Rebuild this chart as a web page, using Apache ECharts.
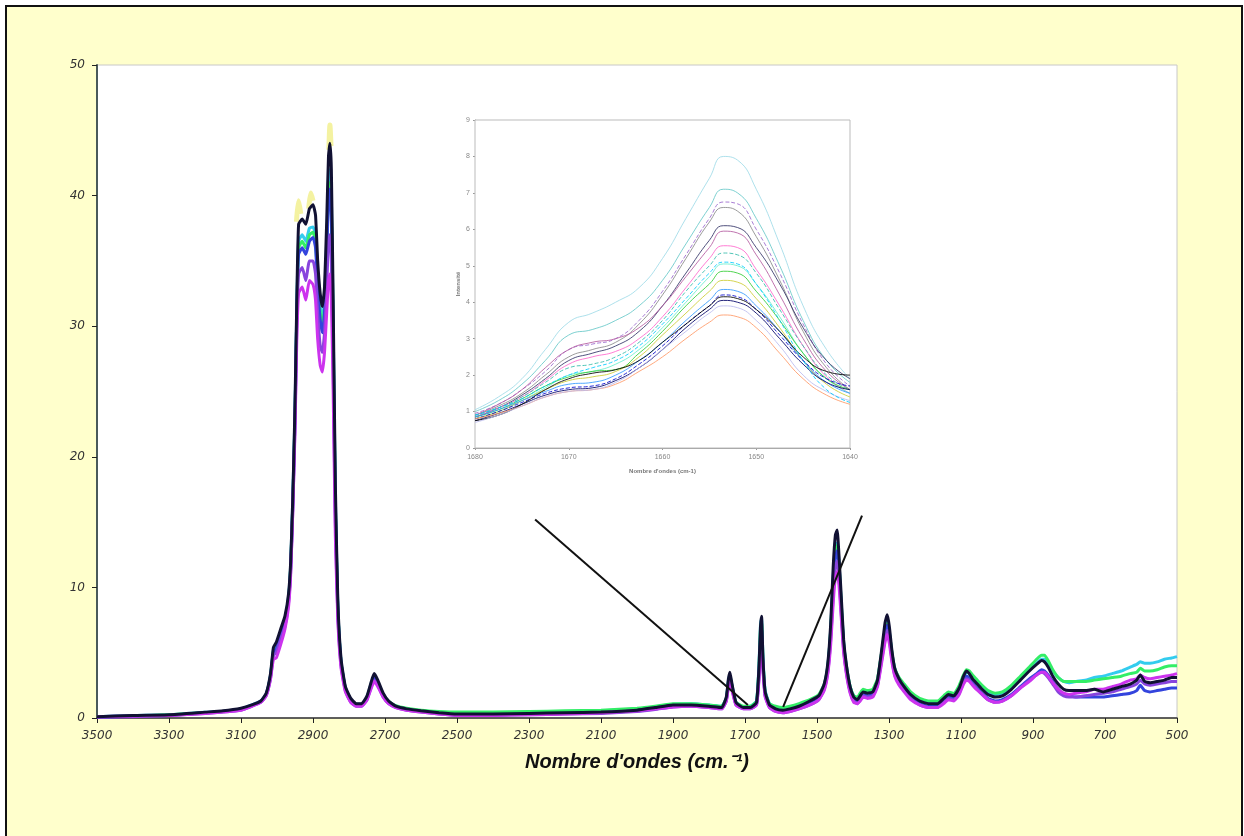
<!DOCTYPE html>
<html lang="fr">
<head>
  <meta charset="UTF-8">
  <title>Spectres Raman</title>
  <script src="https://cdn.jsdelivr.net/npm/echarts@6/dist/echarts.min.js"></script>
  <style>
    * { margin: 0; padding: 0; }
    body { background: #fff; width: 1244px; height: 836px; overflow: hidden; position: relative; }
    #frame { position: absolute; left: 5px; top: 5px; width: 1234px; height: 840px; border: 2px solid #111; background: #FFFFCC; }
    #main { position: absolute; left: 0; top: 0; width: 1244px; height: 836px; }
  </style>
</head>
<body>
  <div id="frame"></div>
  <div id="main"></div>
<script>
  // nombres d'onde (cm-1), spectre complet
  var W = [
    3500, 3400, 3300, 3200, 3150, 3100, 3070, 3045, 3030, 3018,
    3010, 3002, 2990, 2978, 2968, 2962, 2956, 2950, 2945, 2940,
    2930, 2920, 2910, 2900, 2893, 2887, 2880, 2874, 2868, 2862,
    2857, 2853, 2849, 2844, 2838, 2831, 2822, 2810, 2795, 2780,
    2765, 2750, 2738, 2730, 2720, 2705, 2690, 2670, 2640, 2600,
    2550, 2500, 2400, 2300, 2200, 2100, 2000, 1950, 1900, 1850,
    1800, 1765, 1752, 1746, 1742, 1736, 1725, 1705, 1685, 1668,
    1661, 1657, 1654, 1650, 1644, 1632, 1615, 1595, 1575, 1550,
    1520, 1495, 1480, 1470, 1462, 1455, 1449, 1444, 1439, 1433,
    1426, 1418, 1408, 1398, 1388, 1380, 1372, 1360, 1345, 1332,
    1320, 1311, 1305, 1299, 1292, 1284, 1272, 1258, 1240, 1215,
    1190, 1165, 1148, 1135, 1120, 1105, 1093, 1085, 1077, 1068,
    1058, 1045, 1025, 1005, 985, 960, 935, 910, 890, 876,
    868, 858, 845, 830, 815, 800, 780, 755, 730, 705,
    680, 655, 630, 612, 602, 590, 575, 555, 535, 515,
    500
  ];

  var specBlack = [
    0.1, 0.2, 0.25, 0.45, 0.55, 0.75, 1.0, 1.3, 1.9, 3.4,
    5.4, 5.8, 6.8, 7.8, 9.5, 12, 17, 24, 32, 37.8,
    38.2, 37.8, 39.0, 39.3, 38.5, 35, 32.5, 31.5, 33, 38,
    43, 44, 42, 32, 18, 9, 4.5, 2.4, 1.5, 1.1,
    1.1, 1.7, 2.8, 3.4, 2.9, 1.9, 1.3, 0.9, 0.7, 0.55,
    0.4, 0.3, 0.3, 0.35, 0.4, 0.45, 0.6, 0.8, 1.0, 1.0,
    0.9, 0.8, 1.6, 3.0, 3.5, 2.6, 1.2, 0.8, 0.8, 1.2,
    4.0, 7.0, 7.8, 4.5, 2.0, 1.0, 0.7, 0.6, 0.7, 0.9,
    1.3, 1.7, 2.6, 4.2, 7.2, 11.6, 14.0, 14.4, 12.5, 9.5,
    6.0, 4.0, 2.4, 1.6, 1.4, 1.7, 2.0, 1.9, 2.0, 2.9,
    5.3, 7.3, 7.9, 7.0, 5.2, 3.8, 3.0, 2.4, 1.8, 1.3,
    1.1, 1.1, 1.5, 1.8, 1.7, 2.3, 3.2, 3.6, 3.4, 3.0,
    2.7, 2.3, 1.8, 1.6, 1.7, 2.2, 2.9, 3.6, 4.1, 4.4,
    4.3, 3.9, 3.2, 2.6, 2.2, 2.1, 2.1, 2.1, 2.2, 2.0,
    2.2, 2.4, 2.6, 2.9, 3.3, 2.8, 2.7, 2.8, 2.9, 3.1,
    3.1
  ];

  var specMagenta = [
    0.1, 0.15, 0.2, 0.35, 0.45, 0.6, 0.9, 1.2, 1.7, 3.0,
    4.5, 4.6, 5.6, 6.8, 8.5, 11, 16, 22, 29, 32.5,
    33, 32, 33.5, 33.2, 32, 29, 27, 26.5, 28, 31,
    33.5, 34, 32, 25, 14, 7.5, 3.8, 2.0, 1.2, 0.9,
    0.9, 1.4, 2.3, 2.8, 2.4, 1.6, 1.1, 0.8, 0.6, 0.45,
    0.3, 0.2, 0.2, 0.25, 0.3, 0.4, 0.55, 0.7, 0.85, 0.9,
    0.8, 0.7, 1.3, 2.4, 2.8, 2.1, 1.0, 0.7, 0.7, 1.0,
    3.0, 5.2, 5.8, 3.6, 1.6, 0.8, 0.5, 0.4, 0.5, 0.7,
    1.0, 1.4, 2.1, 3.4, 5.6, 8.8, 10.8, 11.2, 10.2, 7.8,
    5.0, 3.3, 1.9, 1.2, 1.1, 1.3, 1.6, 1.5, 1.6, 2.4,
    4.3, 5.8, 6.4, 5.7, 4.3, 3.2, 2.5, 2.0, 1.4, 1.0,
    0.8, 0.8, 1.1, 1.4, 1.3, 1.8, 2.6, 2.9, 2.8, 2.5,
    2.2, 1.9, 1.4, 1.2, 1.3, 1.7, 2.3, 2.8, 3.3, 3.5,
    3.5, 3.2, 2.7, 2.2, 1.9, 1.8, 1.9, 2.0, 2.2, 2.2,
    2.4, 2.6, 2.9, 3.0, 3.3, 3.1, 3.0, 3.1, 3.2, 3.3,
    3.4
  ];

  var specBlue = [
    0.05, 0.15, 0.2, 0.4, 0.5, 0.65, 0.95, 1.25, 1.8, 3.2,
    5.0, 5.3, 6.3, 7.3, 9.0, 11.5, 16.5, 23, 31, 35.5,
    36, 35.5, 36.5, 36.8, 36, 33, 30.5, 29.5, 31, 35.5,
    39.5, 40.5, 38.5, 29, 16, 8.3, 4.2, 2.2, 1.3, 1.0,
    1.0, 1.5, 2.5, 3.1, 2.6, 1.7, 1.2, 0.85, 0.65, 0.5,
    0.35, 0.25, 0.25, 0.3, 0.35, 0.4, 0.55, 0.75, 0.95, 0.95,
    0.85, 0.75, 1.4, 2.7, 3.1, 2.3, 1.1, 0.75, 0.75, 1.1,
    3.5, 6.2, 6.8, 4.0, 1.8, 0.9, 0.6, 0.5, 0.6, 0.8,
    1.1, 1.5, 2.3, 3.8, 6.4, 10.2, 12.4, 12.8, 11.4, 8.6,
    5.5, 3.6, 2.1, 1.4, 1.2, 1.5, 1.8, 1.7, 1.8, 2.6,
    4.8, 6.5, 7.1, 6.3, 4.7, 3.5, 2.7, 2.2, 1.6, 1.1,
    0.9, 0.9, 1.3, 1.6, 1.5, 2.0, 2.8, 3.2, 3.1, 2.7,
    2.4, 2.0, 1.5, 1.3, 1.4, 1.8, 2.4, 3.0, 3.4, 3.7,
    3.6, 3.3, 2.8, 2.2, 1.8, 1.7, 1.6, 1.6, 1.6, 1.6,
    1.7, 1.8, 1.9, 2.1, 2.5, 2.1, 2.0, 2.1, 2.2, 2.3,
    2.3
  ];

  var specCyan = [
    0.1, 0.2, 0.25, 0.45, 0.5, 0.7, 1.0, 1.3, 1.85, 3.3,
    5.2, 5.6, 6.6, 7.6, 9.3, 11.8, 17, 23.5, 31.5, 36.5,
    37, 36.5, 37.5, 37.6, 37, 34, 31.5, 30.5, 32, 36.5,
    41, 42, 40, 30.5, 17, 8.6, 4.3, 2.3, 1.4, 1.05,
    1.05, 1.6, 2.7, 3.2, 2.7, 1.8, 1.25, 0.9, 0.7, 0.55,
    0.45, 0.35, 0.35, 0.45, 0.5, 0.55, 0.7, 0.85, 1.05, 1.1,
    1.0, 0.9, 1.5, 2.9, 3.3, 2.5, 1.2, 0.85, 0.9, 1.3,
    4.2, 7.2, 7.6, 4.6, 2.1, 1.1, 0.8, 0.7, 0.8, 1.0,
    1.3, 1.7, 2.5, 4.0, 6.8, 10.8, 13.0, 13.4, 12.0, 9.0,
    5.8, 3.9, 2.4, 1.7, 1.5, 1.8, 2.1, 2.0, 2.1, 2.9,
    5.1, 6.8, 7.4, 6.6, 5.0, 3.8, 3.0, 2.5, 1.9, 1.4,
    1.2, 1.2, 1.6, 1.9, 1.8, 2.3, 3.1, 3.5, 3.4, 3.1,
    2.8, 2.4, 2.0, 1.8, 1.9, 2.4, 3.0, 3.7, 4.2, 4.5,
    4.5, 4.2, 3.6, 3.1, 2.8, 2.7, 2.8, 2.9, 3.1, 3.2,
    3.4, 3.6, 3.9, 4.1, 4.3, 4.2, 4.2, 4.3, 4.5, 4.6,
    4.7
  ];

  var specGreen = [
    0.1, 0.15, 0.25, 0.4, 0.5, 0.7, 0.95, 1.25, 1.8, 3.2,
    5.1, 5.4, 6.4, 7.4, 9.1, 11.6, 16.5, 23, 31, 36,
    36.5, 36, 37, 37.2, 36.5, 33.5, 31, 30, 31.5, 36,
    40, 41, 39, 30, 16.5, 8.4, 4.2, 2.3, 1.4, 1.05,
    1.05, 1.6, 2.6, 3.2, 2.7, 1.8, 1.3, 0.95, 0.75, 0.6,
    0.5, 0.45, 0.45, 0.5, 0.55, 0.6, 0.75, 0.9, 1.1, 1.1,
    1.0, 0.9, 1.5, 2.8, 3.2, 2.4, 1.2, 0.9, 0.9, 1.3,
    3.9, 6.8, 7.3, 4.4, 2.0, 1.1, 0.9, 0.8, 0.9, 1.1,
    1.4, 1.8, 2.6, 4.0, 6.7, 10.6, 12.8, 13.2, 11.8, 8.9,
    5.7, 3.9, 2.4, 1.7, 1.6, 1.9, 2.2, 2.1, 2.2, 3.0,
    5.1, 6.7, 7.2, 6.5, 5.0, 3.8, 3.1, 2.6, 2.0, 1.5,
    1.3, 1.3, 1.7, 2.0, 1.9, 2.5, 3.3, 3.7, 3.6, 3.3,
    3.0, 2.6, 2.1, 1.9, 2.0, 2.5, 3.2, 3.9, 4.5, 4.8,
    4.8, 4.4, 3.7, 3.1, 2.8, 2.8, 2.8, 2.8, 2.9, 3.0,
    3.1, 3.2, 3.4, 3.5, 3.8, 3.6, 3.6, 3.7, 3.9, 4.0,
    4.0
  ];

  var specViolet = [
    0.05, 0.1, 0.2, 0.35, 0.45, 0.6, 0.9, 1.2, 1.7, 3.0,
    4.8, 5.0, 6.0, 7.0, 8.8, 11.2, 16, 22.5, 30, 34,
    34.5, 33.5, 35, 35, 34, 31, 28.5, 28, 29.5, 33,
    36.5, 37, 35, 27, 15, 7.8, 4.0, 2.1, 1.2, 0.9,
    0.9, 1.4, 2.4, 2.9, 2.5, 1.6, 1.1, 0.8, 0.6, 0.45,
    0.3, 0.2, 0.2, 0.25, 0.3, 0.35, 0.5, 0.65, 0.85, 0.9,
    0.8, 0.7, 1.3, 2.5, 2.9, 2.2, 1.0, 0.7, 0.7, 1.0,
    3.2, 5.6, 6.2, 3.8, 1.7, 0.8, 0.5, 0.4, 0.5, 0.7,
    1.0, 1.4, 2.2, 3.5, 6.0, 9.4, 11.6, 12.0, 10.8, 8.2,
    5.2, 3.4, 2.0, 1.3, 1.1, 1.4, 1.7, 1.6, 1.7, 2.5,
    4.5, 6.1, 6.7, 6.0, 4.5, 3.3, 2.6, 2.1, 1.5, 1.0,
    0.8, 0.8, 1.2, 1.5, 1.4, 1.9, 2.7, 3.0, 2.9, 2.6,
    2.3, 1.9, 1.4, 1.2, 1.3, 1.7, 2.3, 2.9, 3.3, 3.5,
    3.4, 3.1, 2.6, 2.0, 1.7, 1.6, 1.6, 1.7, 1.8, 1.9,
    2.0, 2.2, 2.4, 2.6, 2.9, 2.6, 2.5, 2.6, 2.7, 2.8,
    2.8
  ];

  // halo jaune au sommet des bandes CH
  var yellowTips = [
    [2946, 38.0], [2940, 39.6], [2934, 38.6]
  ];
  var yellowTips2 = [
    [2912, 39.0], [2906, 40.2], [2900, 39.6]
  ];
  var yellowTips3 = [
    [2856, 43.5], [2853, 45.4], [2850, 43.8]
  ];

  // traits reliant l'agrandissement a la bande 1655
  var zoomLine1 = [[2283, 15.2], [1692, 1.0]];
  var zoomLine2 = [[1594, 0.85], [1375, 15.5]];

  // agrandissement 1680 - 1640 cm-1
  var IX = [1680, 1677.5, 1675, 1672.5, 1670, 1667.5, 1665, 1662.5, 1660, 1657.5, 1655, 1653.5, 1652, 1650, 1647.5, 1645, 1642.5, 1640];

  var insetCurves = [
    ['#9fdbe8', [1.05, 1.4, 1.9, 2.7, 3.45, 3.7, 4.0, 4.4, 5.2, 6.3, 7.4, 8.0, 7.9, 7.1, 5.6, 3.9, 2.7, 1.9]],
    ['#66c8c8', [1.0, 1.3, 1.75, 2.4, 3.1, 3.25, 3.5, 3.9, 4.6, 5.6, 6.6, 7.1, 7.0, 6.3, 5.0, 3.5, 2.4, 1.8]],
    ['#9966cc', [0.95, 1.2, 1.6, 2.1, 2.7, 2.85, 3.0, 3.5, 4.3, 5.3, 6.3, 6.75, 6.7, 6.0, 4.8, 3.4, 2.3, 1.7]],
    ['#8a8a8a', [0.9, 1.15, 1.5, 2.0, 2.5, 2.7, 2.9, 3.4, 4.2, 5.2, 6.2, 6.6, 6.5, 5.8, 4.6, 3.2, 2.2, 1.6]],
    ['#333366', [0.85, 1.1, 1.45, 1.9, 2.4, 2.6, 2.8, 3.2, 3.9, 4.8, 5.7, 6.1, 6.05, 5.5, 4.5, 3.3, 2.4, 1.9]],
    ['#b45aa0', [0.9, 1.2, 1.6, 2.2, 2.7, 2.9, 3.0, 3.3, 3.9, 4.7, 5.5, 5.95, 5.9, 5.3, 4.2, 3.0, 2.1, 1.6]],
    ['#ff66cc', [0.85, 1.1, 1.4, 1.85, 2.3, 2.5, 2.65, 3.0, 3.6, 4.4, 5.2, 5.55, 5.5, 4.9, 3.9, 2.8, 1.95, 1.5]],
    ['#33bbaa', [0.9, 1.1, 1.4, 1.8, 2.2, 2.3, 2.5, 2.9, 3.5, 4.3, 5.0, 5.35, 5.3, 4.8, 3.8, 2.8, 2.0, 1.6]],
    ['#66eecc', [0.8, 1.0, 1.3, 1.65, 2.0, 2.1, 2.3, 2.7, 3.3, 4.0, 4.7, 5.05, 5.0, 4.5, 3.6, 2.6, 1.9, 1.5]],
    ['#33cc33', [0.85, 1.05, 1.35, 1.7, 1.95, 2.1, 2.15, 2.6, 3.2, 3.9, 4.5, 4.85, 4.8, 4.3, 3.5, 2.6, 1.9, 1.6]],
    ['#cccc33', [0.8, 1.0, 1.3, 1.6, 1.85, 1.95, 2.1, 2.5, 3.1, 3.7, 4.3, 4.6, 4.55, 4.1, 3.3, 2.4, 1.75, 1.4]],
    ['#3399ff', [0.85, 1.05, 1.3, 1.55, 1.75, 1.8, 2.0, 2.4, 2.9, 3.5, 4.05, 4.35, 4.3, 3.9, 3.2, 2.4, 1.8, 1.5]],
    ['#0000cc', [0.8, 1.0, 1.25, 1.5, 1.65, 1.7, 1.9, 2.3, 2.8, 3.4, 3.9, 4.2, 4.15, 3.8, 3.1, 2.4, 1.9, 1.7]],
    ['#000066', [0.75, 0.95, 1.2, 1.45, 1.6, 1.65, 1.85, 2.2, 2.7, 3.3, 3.8, 4.05, 4.0, 3.7, 3.0, 2.3, 1.8, 1.6]],
    ['#000000', [0.75, 0.9, 1.2, 1.6, 1.9, 2.05, 2.15, 2.4, 2.9, 3.4, 3.9, 4.15, 4.1, 3.8, 3.2, 2.5, 2.1, 2.0]],
    ['#ff9966', [0.8, 0.95, 1.15, 1.4, 1.55, 1.6, 1.75, 2.1, 2.5, 3.0, 3.45, 3.65, 3.6, 3.3, 2.6, 1.9, 1.45, 1.2]],
    ['#bbbbee', [0.7, 0.9, 1.15, 1.4, 1.55, 1.6, 1.8, 2.2, 2.7, 3.2, 3.7, 3.9, 3.85, 3.5, 2.8, 2.0, 1.55, 1.3]],
    ['#00ccff', [0.9, 1.1, 1.35, 1.7, 2.0, 2.2, 2.4, 2.8, 3.4, 4.1, 4.8, 5.1, 5.05, 4.5, 3.5, 2.4, 1.6, 1.25]]
  ];

  var myChart = echarts.init(document.getElementById('main'));

  function pairs(xs, ys) {
    return xs.map(function (x, i) { return [x, ys[i]]; });
  }

  function spec(name, color, ys, width) {
    return {
      name: name, type: 'line', xAxisIndex: 0, yAxisIndex: 0,
      data: pairs(W, ys), showSymbol: false, smooth: 0.15,
      lineStyle: { color: color, width: width || 3 }, silent: true
    };
  }

  function tip(d) {
    return {
      type: 'line', data: d, showSymbol: false, smooth: 0.3, silent: true,
      lineStyle: { color: '#f2f090', width: 5, opacity: 0.85 }
    };
  }

  var series = [
    tip(yellowTips), tip(yellowTips2), tip(yellowTips3),
    spec('cyan', '#33ccee', specCyan),
    spec('vert', '#33ee66', specGreen),
    spec('bleu', '#3344dd', specBlue),
    spec('violet', '#8844dd', specViolet),
    spec('magenta', '#cc33ee', specMagenta),
    spec('noir', '#111133', specBlack, 3),
    {
      type: 'line', data: zoomLine1, showSymbol: false, silent: true,
      lineStyle: { color: '#111', width: 2 }, z: 5
    },
    {
      type: 'line', data: zoomLine2, showSymbol: false, silent: true,
      lineStyle: { color: '#111', width: 2 }, z: 5
    }
  ];

  insetCurves.forEach(function (c, i) {
    series.push({
      type: 'line', xAxisIndex: 1, yAxisIndex: 1,
      data: pairs(IX, c[1]), showSymbol: false, smooth: 0.5, silent: true,
      lineStyle: { color: c[0], width: 1, opacity: 0.85, type: (i % 5 === 2) ? 'dashed' : 'solid' }
    });
  });

  function plain(v) { return String(v); }

  var labelFont = { fontFamily: 'DejaVu Sans', fontStyle: 'italic', fontSize: 12, color: '#333', formatter: plain };

  var option = {
    animation: false,
    backgroundColor: 'transparent',
    grid: [
      { left: 97, top: 65, width: 1080, height: 653, show: true, backgroundColor: '#fff', borderColor: '#c8c8c8', borderWidth: 1 },
      { left: 475, top: 120, width: 375, height: 328, show: true, backgroundColor: '#fff', borderColor: '#bbb', borderWidth: 1, z: 3 }
    ],
    xAxis: [{
      type: 'value', gridIndex: 0, min: 500, max: 3500, interval: 200, inverse: true,
      name: "Nombre d'ondes (cm.\u207B\u00B9)", nameLocation: 'middle', nameGap: 34,
      nameTextStyle: { fontFamily: 'Liberation Sans Narrow, Liberation Sans', fontStyle: 'italic', fontWeight: 'bold', fontSize: 20, color: '#111' },
      axisLine: { lineStyle: { color: '#333', width: 1.5 } },
      axisTick: { length: 5, lineStyle: { color: '#222' } },
      axisLabel: Object.assign({ margin: 12 }, labelFont),
      splitLine: { show: false }
    }, {
      type: 'value', gridIndex: 1, min: 1640, max: 1680, interval: 10, inverse: true,
      name: "Nombre d'ondes (cm-1)", nameLocation: 'middle', nameGap: 20,
      nameTextStyle: { fontSize: 6, fontWeight: 'bold', color: '#777' },
      axisLine: { lineStyle: { color: '#999' } },
      axisTick: { length: 2, lineStyle: { color: '#999' } },
      axisLabel: { fontSize: 7, color: '#888', margin: 6, formatter: plain },
      splitLine: { show: false }
    }],
    yAxis: [{
      type: 'value', gridIndex: 0, min: 0, max: 50, interval: 10,
      axisLine: { show: true, lineStyle: { color: '#4a5a5a', width: 2 } },
      axisTick: { show: true, length: 5, lineStyle: { color: '#222' } },
      axisLabel: Object.assign({ margin: 12 }, labelFont),
      splitLine: { show: false }
    }, {
      type: 'value', gridIndex: 1, min: 0, max: 9, interval: 1,
      name: 'Intensit\u00e9', nameLocation: 'middle', nameGap: 14, nameRotate: 90,
      nameTextStyle: { fontSize: 6, fontWeight: 'bold', color: '#777' },
      axisLine: { show: true, lineStyle: { color: '#999' } },
      axisTick: { show: true, length: 2, lineStyle: { color: '#999' } },
      axisLabel: { fontSize: 7, color: '#888', margin: 5 },
      splitLine: { show: false }
    }],
    series: series
  };

  myChart.setOption(option);
</script>
</body>
</html>
